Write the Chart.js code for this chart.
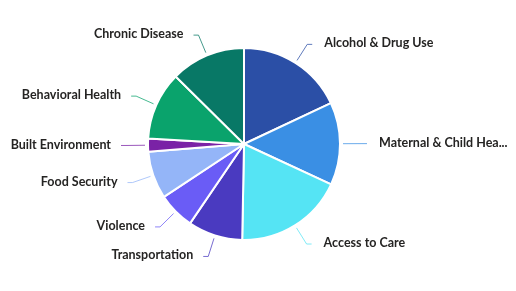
<!DOCTYPE html>
<html>
<head>
<meta charset="utf-8">
<script src="https://cdn.jsdelivr.net/npm/chart.js@4.4.1/dist/chart.umd.min.js"></script>
<style>
  html, body { margin: 0; padding: 0; background: #ffffff; }
  #wrap { width: 516px; height: 291px; position: relative; }
</style>
</head>
<body>
<div id="wrap"><canvas id="pieChart" width="516" height="291"></canvas></div>
<script>
// categories, clockwise from 12 o'clock
const categories = [
  "Alcohol & Drug Use",
  "Maternal & Child Health",
  "Access to Care",
  "Transportation",
  "Violence",
  "Food Security",
  "Built Environment",
  "Behavioral Health",
  "Chronic Disease",
];

// share of each slice (%)
const shares = [18.0, 13.9, 18.4, 9.2, 6.2, 8.0, 2.2, 11.5, 12.6];

const sliceColors = [
  "#2b4fa6",
  "#3a8fe4",
  "#55e4f4",
  "#4a3ac0",
  "#6a5cf6",
  "#94b5f8",
  "#7a22a6",
  "#0aa36c",
  "#087866",
];

//#region outside labels with leader lines
const leaderLabels = {
  id: "leaderLabels",
  afterDatasetsDraw(chart) {
    const ctx = chart.ctx;
    const meta = chart.getDatasetMeta(0);
    const labels = chart.data.labels;

    ctx.save();
    ctx.font = "bold 12.5px Lato";
    ctx.textBaseline = "middle";

    meta.data.forEach((arc, i) => {
      const p = arc.getProps(["x", "y", "startAngle", "endAngle", "outerRadius"], true);
      const mid = (p.startAngle + p.endAngle) / 2;
      const cos = Math.cos(mid);
      const sin = Math.sin(mid);

      // start just outside the edge, bend further out
      const x0 = p.x + cos * (p.outerRadius + 3);
      const y0 = p.y + sin * (p.outerRadius + 3);
      const x1 = p.x + cos * (p.outerRadius + 22);
      const y1 = p.y + sin * (p.outerRadius + 22);
      const right = cos >= 0;
      const x2 = x1 + (right ? 5 : -5);

      ctx.strokeStyle = sliceColors[i];
      ctx.globalAlpha = 0.75;
      ctx.lineWidth = 1;
      ctx.beginPath();
      ctx.moveTo(x0, y0);
      ctx.lineTo(x1, y1);
      ctx.lineTo(x2, y1);
      ctx.stroke();
      ctx.globalAlpha = 1;

      // text, cut with an ellipsis if it runs off the canvas
      const tx = x2 + (right ? 12 : -10);
      let text = labels[i];
      const room = right ? chart.width - tx - 8 : tx - 4;
      if (ctx.measureText(text).width > room) {
        while (text.length > 1 && ctx.measureText(text + "...").width > room) {
          text = text.slice(0, -1);
        }
        text = text.trimEnd() + "...";
      }
      ctx.fillStyle = "#252423";
      ctx.textAlign = right ? "left" : "right";
      ctx.fillText(text, tx, y1 - 1);
    });
    ctx.restore();
  },
};
//#endregion

new Chart(document.getElementById("pieChart"), {
  type: "pie",
  data: {
    labels: categories,
    datasets: [
      {
        data: shares,
        backgroundColor: sliceColors,
        borderColor: "#ffffff",
        borderWidth: 2,
      },
    ],
  },
  options: {
    responsive: false,
    animation: false,
    layout: {
      padding: { top: 47, bottom: 50, left: 147, right: 175 },
    },
    plugins: {
      legend: { display: false },
      tooltip: { enabled: false },
    },
  },
  plugins: [leaderLabels],
});
</script>
</body>
</html>
